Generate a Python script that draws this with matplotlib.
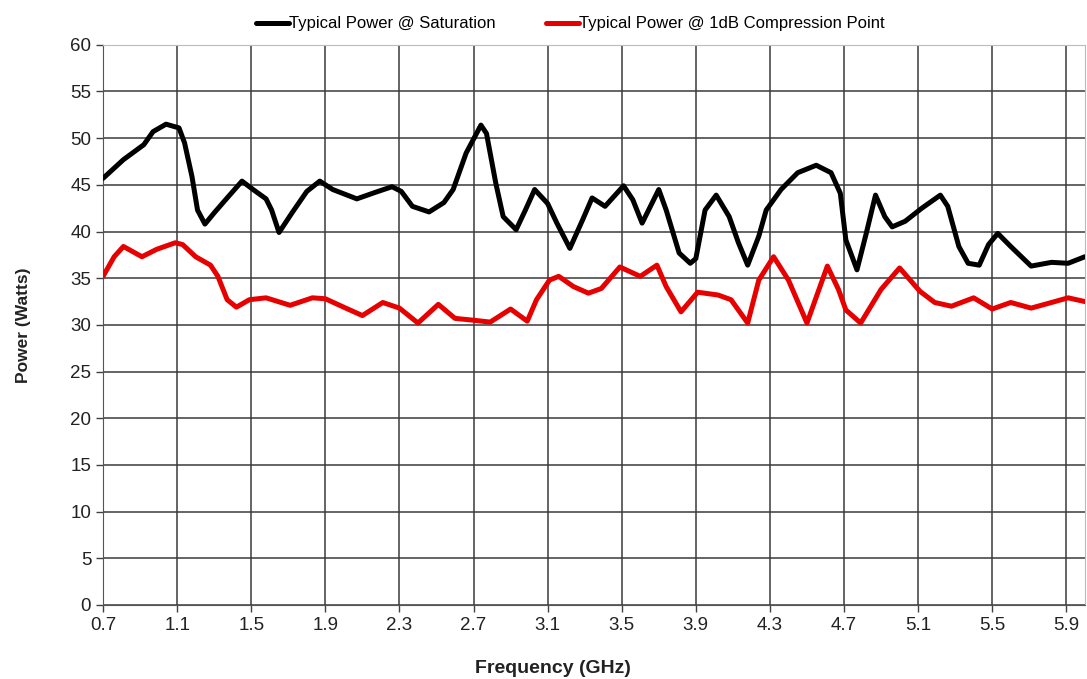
#! /usr/bin/env python
# power vs frequency chart, saturation and 1dB compression curves

import matplotlib
matplotlib.use("Agg")
import matplotlib.pyplot as plt

# ***************************** data *****************************
# typical power @ saturation (watts)
sat_freq = [0.70, 0.81, 0.92, 0.97, 1.04, 1.11, 1.14, 1.18, 1.21, 1.25, 1.30, 1.37,
            1.45, 1.51, 1.58, 1.61, 1.65, 1.72, 1.80, 1.87, 1.94, 2.07, 2.17, 2.26,
            2.31, 2.37, 2.46, 2.54, 2.59, 2.66, 2.74, 2.77, 2.82, 2.86, 2.93, 2.98,
            3.03, 3.10, 3.15, 3.22, 3.29, 3.34, 3.41, 3.51, 3.56, 3.61, 3.70, 3.74,
            3.81, 3.87, 3.90, 3.95, 4.01, 4.08, 4.13, 4.18, 4.24, 4.28, 4.36, 4.45,
            4.55, 4.63, 4.68, 4.71, 4.77, 4.82, 4.87, 4.92, 4.96, 5.03, 5.12, 5.22,
            5.26, 5.32, 5.37, 5.43, 5.48, 5.53, 5.60, 5.71, 5.82, 5.91, 6.00]
sat_power = [45.7, 47.7, 49.3, 50.7, 51.5, 51.1, 49.5, 45.9, 42.3, 40.8, 42.0, 43.6,
             45.4, 44.5, 43.5, 42.3, 39.9, 42.0, 44.3, 45.4, 44.5, 43.5, 44.2, 44.8,
             44.3, 42.7, 42.1, 43.1, 44.5, 48.4, 51.4, 50.5, 45.2, 41.6, 40.2, 42.3,
             44.5, 43.0, 40.9, 38.2, 41.3, 43.6, 42.7, 44.9, 43.4, 40.9, 44.5, 42.3,
             37.7, 36.6, 37.1, 42.3, 43.9, 41.6, 38.8, 36.4, 39.5, 42.3, 44.5, 46.3,
             47.1, 46.3, 44.1, 39.1, 35.9, 39.8, 43.9, 41.6, 40.5, 41.1, 42.5, 43.9,
             42.7, 38.4, 36.6, 36.4, 38.6, 39.8, 38.4, 36.3, 36.7, 36.6, 37.3]

# typical power @ 1dB compression point (watts)
p1db_freq = [0.70, 0.76, 0.81, 0.91, 0.99, 1.09, 1.13, 1.20, 1.28, 1.32, 1.37, 1.42,
             1.49, 1.58, 1.71, 1.83, 1.90, 2.01, 2.10, 2.21, 2.30, 2.40, 2.51, 2.60,
             2.70, 2.79, 2.90, 2.99, 3.04, 3.11, 3.16, 3.24, 3.32, 3.39, 3.49, 3.60,
             3.69, 3.74, 3.82, 3.91, 4.02, 4.09, 4.18, 4.24, 4.32, 4.40, 4.50, 4.61,
             4.67, 4.71, 4.79, 4.90, 5.00, 5.11, 5.19, 5.28, 5.40, 5.50, 5.60, 5.71,
             5.82, 5.91, 6.00]
p1db_power = [35.2, 37.3, 38.4, 37.3, 38.1, 38.8, 38.6, 37.3, 36.4, 35.2, 32.7, 31.9,
              32.7, 32.9, 32.1, 32.9, 32.8, 31.8, 31.0, 32.4, 31.8, 30.2, 32.2, 30.7,
              30.5, 30.3, 31.7, 30.4, 32.7, 34.8, 35.2, 34.1, 33.4, 33.9, 36.2, 35.2,
              36.4, 34.1, 31.4, 33.5, 33.2, 32.7, 30.2, 34.8, 37.3, 34.8, 30.2, 36.3,
              33.8, 31.6, 30.2, 33.8, 36.1, 33.6, 32.4, 32.0, 32.9, 31.7, 32.4, 31.8,
              32.4, 32.9, 32.5]

x_ticks = [0.7, 1.1, 1.5, 1.9, 2.3, 2.7, 3.1, 3.5, 3.9, 4.3, 4.7, 5.1, 5.5, 5.9]
y_ticks = list(range(0, 61, 5))

# ***************************** plot *****************************
plt.rcParams['font.family'] = ['Liberation Sans', 'DejaVu Sans']

fig = plt.figure(figsize=(10.87, 6.79), dpi=100)
ax = fig.add_axes([0.0948, 0.109, 0.9032, 0.825])

line_kw = dict(lw=3.6, solid_joinstyle='round', solid_capstyle='round', zorder=3)
ax.plot(sat_freq, sat_power, color='black', label='Typical Power @ Saturation', **line_kw)
ax.plot(p1db_freq, p1db_power, color='#e60000',
        label='Typical Power @ 1dB Compression Point', **line_kw)

ax.set_xlim(0.7, 6.0)
ax.set_ylim(0, 60)
ax.set_xticks(x_ticks)
ax.set_xticklabels(['%.1f' % v for v in x_ticks])
ax.set_yticks(y_ticks)
ax.grid(True, color='#3a3a3a', lw=1.1, zorder=1)
ax.tick_params(axis='both', labelsize=13.5, colors='#404040', labelcolor='#222222',
               length=5, width=1.0, direction='out')
for side in ['top', 'right']:
    ax.spines[side].set_color('#bbbbbb')
for side in ['left', 'bottom']:
    ax.spines[side].set_color('#555555')

ax.set_ylabel('Power (Watts)', fontsize=12.5, fontweight='bold', color='#222222')
ax.yaxis.set_label_coords(-0.073, 0.5)
ax.set_xlabel('Frequency (GHz)', fontsize=14, fontweight='bold', color='#222222')
ax.xaxis.set_label_coords(0.458, -0.099)

ax.legend(loc='lower center', bbox_to_anchor=(0.476, 1.0), ncol=2, frameon=False,
          fontsize=12, handlelength=2.0, handletextpad=0.0, columnspacing=3.0,
          borderaxespad=0.4)

plt.savefig("out.png", dpi=100)
